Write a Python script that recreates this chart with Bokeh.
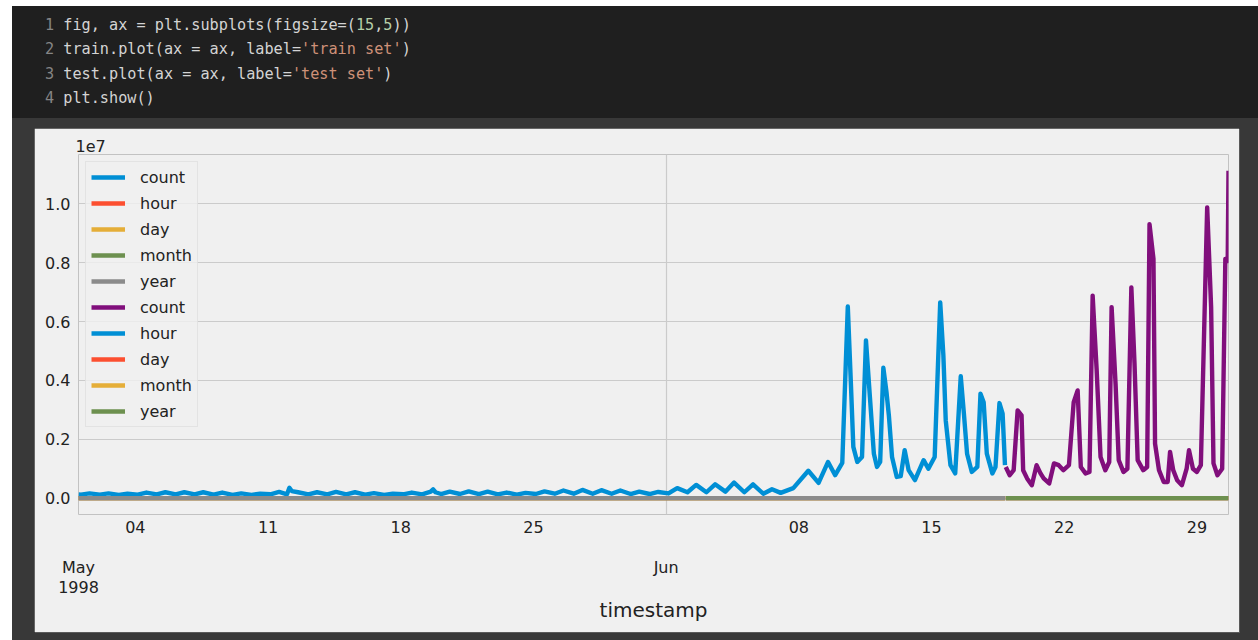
import pandas as pd
from bokeh.plotting import figure
from bokeh.models import (Range1d, FixedTicker, DatetimeAxis, Legend, LegendItem,
                          Div, Spacer, ColumnDataSource)
from bokeh.layouts import column, row
from bokeh.embed import file_html
from bokeh.resources import INLINE

# ---------------- data ----------------
START = "1998-05-01 00:00"

# hours after START, and request count in units of 100,000
train_hours = [0, 3, 14, 27, 38, 51, 62, 75, 86, 99, 110, 123, 134, 147, 158, 171, 182,
               195, 206, 219, 230, 243, 254, 264, 267, 270, 278, 291, 302, 315, 326,
               339, 350, 363, 374, 387, 398, 411, 422, 435, 446, 449, 452, 459, 470,
               483, 494, 507, 518, 531, 542, 555, 566, 579, 590, 603, 614, 627, 638,
               651, 662, 675, 686, 699, 710, 723, 734, 747, 758, 771, 782, 795, 806,
               819, 830, 843, 854, 867, 878, 889, 905, 924, 937, 949, 958, 967, 974,
               978, 981, 986, 992, 997, 1002, 1007, 1011, 1015, 1019, 1023, 1026, 1030,
               1036, 1041, 1046, 1051, 1059, 1070, 1076, 1084, 1091, 1095, 1098, 1104,
               1110, 1117, 1121, 1125, 1131, 1138, 1142, 1146, 1150, 1157, 1161, 1166,
               1170, 1173]
train_count_1e5 = [1.3, 1.2, 1.6, 1.2, 1.6, 1.1, 1.5, 1.2, 1.9, 1.3, 2.0, 1.3, 2.0, 1.3,
                   2.0, 1.2, 1.9, 1.1, 1.6, 1.1, 1.5, 1.3, 2.1, 1.3, 3.5, 2.4, 2.0,
                   1.3, 2.0, 1.3, 2.1, 1.3, 2.0, 1.2, 1.7, 1.1, 1.5, 1.3, 1.9, 1.3,
                   2.2, 3.0, 2.0, 1.4, 2.2, 1.4, 2.3, 1.4, 2.2, 1.3, 1.9, 1.2, 1.8,
                   1.4, 2.3, 1.5, 2.6, 1.5, 2.8, 1.5, 2.7, 1.5, 2.6, 1.4, 2.2, 1.4,
                   2.1, 1.6, 3.4, 2.0, 4.5, 2.0, 4.7, 2.2, 5.3, 2.0, 4.7, 1.5, 3.0,
                   1.8, 3.4, 9.3, 5.2, 12.3, 7.8, 12.0, 65.1, 38.3, 17.4, 12.3, 14.0,
                   53.6, 34.3, 15.1, 10.6, 12.3, 44.3, 36.0, 28.1, 14.0, 7.2, 7.5,
                   16.3, 9.5, 6.1, 12.9, 10.0, 14.0, 66.5, 48.5, 26.4, 11.2, 8.4,
                   41.4, 28.7, 15.1, 8.9, 10.6, 35.5, 32.6, 15.1, 8.4, 10.6, 32.3,
                   28.7, 11.2]

test_hours = [1174, 1179, 1184, 1189, 1194, 1196, 1201, 1207, 1213, 1218, 1222, 1229,
              1235, 1241, 1247, 1254, 1260, 1265, 1269, 1275, 1280, 1284, 1289, 1294,
              1300, 1305, 1308, 1313, 1317, 1323, 1328, 1333, 1337, 1341, 1348, 1353,
              1356, 1361, 1363, 1368, 1374, 1379, 1382, 1386, 1391, 1397, 1403, 1406,
              1411, 1416, 1421, 1429, 1434, 1437, 1442, 1448, 1452, 1455, 1456]
test_count_1e5 = [10.6, 7.8, 9.5, 29.8, 28.1, 9.5, 6.7, 4.4, 11.2, 8.4, 6.7, 5.0,
                  11.8, 11.2, 9.5, 11.2, 32.6, 36.6, 10.6, 8.4, 8.9, 68.8, 44.0,
                  14.0, 9.5, 12.3, 64.9, 38.9, 12.9, 8.9, 10.0, 71.6, 45.7, 12.9,
                  9.5, 10.6, 93.1, 81.3, 18.5, 9.5, 5.5, 5.5, 15.7, 9.5, 6.1, 4.4,
                  10.0, 16.3, 10.0, 8.9, 11.2, 98.8, 64.9, 11.8, 7.8, 10.0, 81.3,
                  80.6, 111.2]

series_names = ["count", "hour", "day", "month", "year"]
train_colors = ["#008fd5", "#fc4f30", "#e5ae38", "#6d904f", "#8b8b8b"]
test_colors = ["#810f7c", "#008fd5", "#fc4f30", "#e5ae38", "#6d904f"]

minor_tick_dates = ["1998-05-04", "1998-05-11", "1998-05-18", "1998-05-25",
                    "1998-06-08", "1998-06-15", "1998-06-22", "1998-06-29"]
minor_tick_labels = ["04", "11", "18", "25", "08", "15", "22", "29"]
major_tick_dates = ["1998-05-01", "1998-06-01"]
major_tick_labels = ["May\n1998", "Jun"]
y_ticks = [0.0, 2e6, 4e6, 6e6, 8e6, 1e7]
y_tick_labels = ["0.0", "0.2", "0.4", "0.6", "0.8", "1.0"]
y_offset_label = "1e7"


def make_frame(hours, counts_1e5):
    ts = pd.Timestamp(START) + pd.to_timedelta(hours, unit="h")
    df = pd.DataFrame({"timestamp": ts, "count": [c * 1e5 for c in counts_1e5]})
    df["hour"] = ts.hour
    df["day"] = ts.day
    df["month"] = ts.month
    df["year"] = ts.year
    return df


def to_ms(d):
    return float(pd.Timestamp(d).value // 10**6)


train = make_frame(train_hours, train_count_1e5)
test = make_frame(test_hours, test_count_1e5)

FONT = "DejaVu Sans"
TXT = "#222222"
Y0, Y1 = -0.556e6, 11.676e6

p = figure(width=1205, height=504, x_axis_type="datetime",
           x_range=Range1d(train["timestamp"].iloc[0], test["timestamp"].iloc[-1]),
           y_range=Range1d(Y0, Y1),
           output_backend="svg", toolbar_location=None,
           background_fill_color="#f0f0f0", border_fill_color="#f0f0f0",
           outline_line_color=None,
           min_border_left=44, min_border_right=11, min_border_top=26,
           min_border_bottom=118, margin=0,
           styles={"box-shadow": "1px 1px 0 #5a5a5a"})

# the "1e7" offset text above the top-left corner of the axes
p.title.text = y_offset_label
p.title.text_font = FONT
p.title.text_font_size = "16px"
p.title.text_font_style = "normal"
p.title.text_color = TXT
p.title.align = "left"
p.title.offset = -3
p.title.standoff = 6

items = []
for df, colors in ((train, train_colors), (test, test_colors)):
    src = ColumnDataSource(df)
    for name, col in zip(series_names, colors):
        r = p.line("timestamp", name, source=src, line_color=col, line_width=4.4,
                   line_join="round")
        items.append(LegendItem(label=name, renderers=[r]))

# axes
xa = p.xaxis[0]
xa.ticker = FixedTicker(ticks=[to_ms(d) for d in minor_tick_dates])
xa.major_label_overrides = {to_ms(d): l for d, l in zip(minor_tick_dates, minor_tick_labels)}
xa.major_label_standoff = 6

xmaj = DatetimeAxis(ticker=FixedTicker(ticks=[to_ms(d) for d in major_tick_dates]),
                    major_label_overrides={to_ms(d): l for d, l in zip(major_tick_dates, major_tick_labels)},
                    axis_label="timestamp")
xmaj.major_label_standoff = 22
xmaj.major_label_text_line_height = 1.09
xmaj.axis_label_standoff = -2
xmaj.axis_label_text_font = FONT
xmaj.axis_label_text_font_size = "20px"
xmaj.axis_label_text_font_style = "normal"
xmaj.axis_label_text_color = TXT
p.add_layout(xmaj, "below")

ya = p.yaxis[0]
ya.ticker = FixedTicker(ticks=y_ticks)
ya.major_label_overrides = {t: l for t, l in zip(y_ticks, y_tick_labels)}
ya.major_label_standoff = 8

for ax in (xa, xmaj, ya):
    ax.axis_line_color = None
    ax.major_tick_line_color = None
    ax.minor_tick_line_color = None
    ax.major_tick_out = 0
    ax.major_tick_in = 0
    ax.minor_tick_out = 0
    ax.major_label_text_font = FONT
    ax.major_label_text_font_size = "16px"
    ax.major_label_text_color = TXT

p.xgrid[0].ticker = FixedTicker(ticks=[to_ms(d) for d in major_tick_dates])
for g in (p.xgrid[0], p.ygrid[0]):
    g.grid_line_color = "#cbcbcb"
    g.grid_line_width = 1.2

legend = Legend(items=items, location="top_left", margin=7, padding=5,
                spacing=6, glyph_width=34, glyph_height=20, label_height=20,
                label_standoff=15, label_text_font=FONT, label_text_font_size="16px",
                label_text_color=TXT, background_fill_color="#f0f0f0",
                background_fill_alpha=0.8, border_line_color="#d6d6d6",
                border_line_width=1)
p.add_layout(legend)

# notebook code cell above the chart
code_html = (
    '<div style="font-family:\'DejaVu Sans Mono\',monospace;font-size:15.2px;'
    'line-height:24.3px;color:#d4d4d4;white-space:pre;padding:7px 0 0 33px;">'
    '<span style="color:#858585">1</span> fig, ax = plt.subplots(figsize=(<span style="color:#b5cea8">15</span>,<span style="color:#b5cea8">5</span>))\n'
    '<span style="color:#858585">2</span> train.plot(ax = ax, label=<span style="color:#ce9178">\'train set\'</span>)\n'
    '<span style="color:#858585">3</span> test.plot(ax = ax, label=<span style="color:#ce9178">\'test set\'</span>)\n'
    '<span style="color:#858585">4</span> plt.show()'
    '</div>'
)
code_div = Div(text=code_html, width=1246, height=112, margin=0,
               styles={"background-color": "#1f1f1f"})
gap = Spacer(width=1246, height=10, margin=0)
left = Spacer(width=22, height=504, margin=0)
right = Spacer(width=19, height=504, margin=0)
bottom = Spacer(width=1246, height=8, margin=0)
body = row(left, p, right, margin=0, spacing=0)
page = column(code_div, gap, body, bottom, margin=(6, 0, 0, 12), spacing=0,
              styles={"background-color": "#383838"})

open("out.html", "w").write(file_html(page, INLINE))
